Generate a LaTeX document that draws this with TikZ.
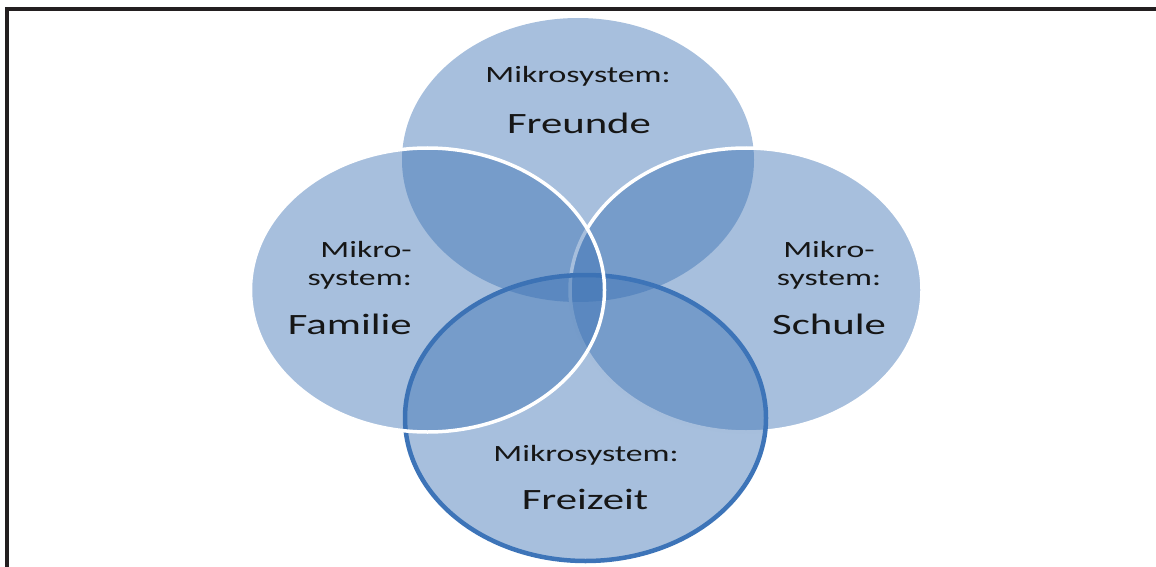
\documentclass[tikz,border=0pt]{standalone}
\usepackage{fontspec}
\usepackage{graphicx}
\setmainfont{Carlito}
\definecolor{vennblue}{HTML}{3B71B3}
\definecolor{ringblue}{HTML}{3D74B8}
\definecolor{framegray}{HTML}{231F20}
\definecolor{txt}{HTML}{161616}
\newcommand{\smalltxt}[1]{\fontsize{23.3}{28}\selectfont\scalebox{1.45}[1]{#1}}
\newcommand{\bigtxt}[1]{\fontsize{29.5}{34}\selectfont\scalebox{1.45}[1]{#1}}
\begin{document}
\begin{tikzpicture}[x=1pt,y=-1pt,
  setfill/.style={fill=vennblue,fill opacity=0.45},
  whiteline/.style={draw=white,line width=3.5pt},
  blueline/.style={draw=ringblue,line width=4.5pt},
  lbl/.style={inner sep=0pt,text=txt}]
\useasboundingbox (0,0) rectangle (1156,567);
\begin{scope}
\clip (0,0) rectangle (1156,567);
% frame lines (top and left)
\draw[framegray,line width=4pt] (7,567) -- (7,9) -- (1156,9);
% four overlapping sets
\path[setfill] (578,160) ellipse [x radius=176,y radius=142];
\path[setfill,whiteline] (746,290) ellipse [x radius=176,y radius=142];
\path[setfill,blueline] (585.5,418) ellipse [x radius=180.5,y radius=143];
\path[setfill,whiteline] (427.5,290) ellipse [x radius=177,y radius=142];
\end{scope}
% labels
\node[lbl,anchor=base] (frA) at (578,83) {\smalltxt{Mikrosystem:}};
\node[lbl,anchor=base] (frB) at (579,133) {\bigtxt{Freunde}};
\node[lbl,anchor=base east] (faA) at (412,257) {\smalltxt{Mikro-}};
\node[lbl,anchor=base east] (faB) at (412,285) {\smalltxt{system:}};
\node[lbl,anchor=base east] (faC) at (412,334) {\bigtxt{Familie}};
\node[lbl,anchor=base] (scA) at (829,257) {\smalltxt{Mikro-}};
\node[lbl,anchor=base] (scB) at (829,285) {\smalltxt{system:}};
\node[lbl,anchor=base] (scC) at (829,334) {\bigtxt{Schule}};
\node[lbl,anchor=base] (fzA) at (586,461) {\smalltxt{Mikrosystem:}};
\node[lbl,anchor=base] (fzB) at (585,509) {\bigtxt{Freizeit}};
\end{tikzpicture}
\end{document}
